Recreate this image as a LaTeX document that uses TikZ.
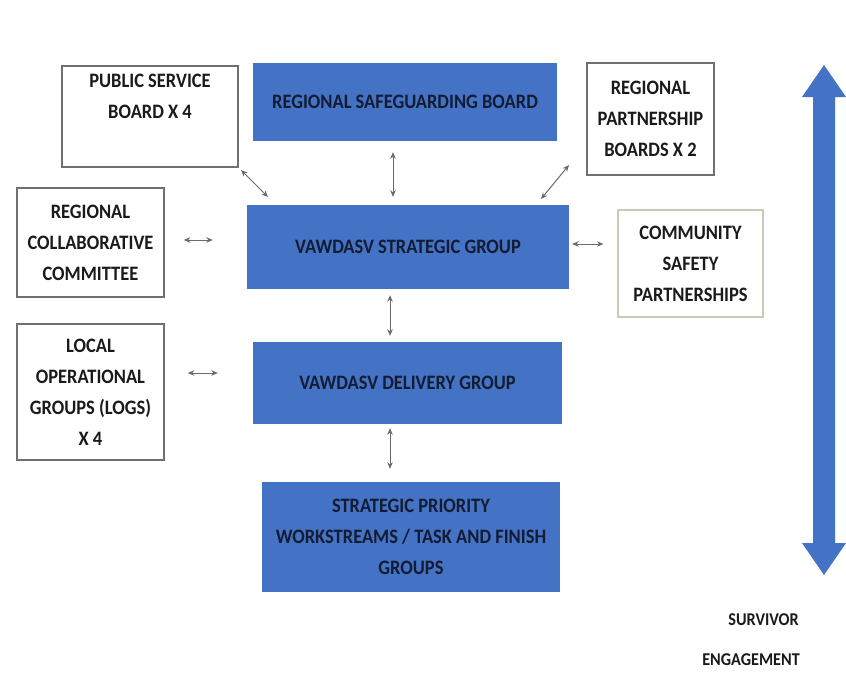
\documentclass[tikz,border=0pt]{standalone}
\usepackage{fontspec}
\setmainfont{Carlito}[FakeStretch=0.9]
\usetikzlibrary{arrows.meta}
\definecolor{boxblue}{HTML}{4472C4}
\definecolor{navytxt}{HTML}{131C33}
\definecolor{darktxt}{HTML}{1A1A1A}
\definecolor{edgegray}{HTML}{707070}
\definecolor{csprim}{HTML}{C5CDB6}
\definecolor{conngray}{HTML}{6A6A6A}
\tikzset{
  txt/.style={font=\fontsize{20.5}{31}\selectfont\bfseries, align=center},
  bluebox/.style={txt, fill=boxblue, draw=none, text=navytxt, inner sep=0pt},
  whitebox/.style={txt, fill=white, draw=edgegray, line width=1.6pt, text=darktxt, inner sep=0pt},
  conn/.style={draw=conngray, line width=1pt, {Stealth[length=6.5pt,width=5.5pt]}-{Stealth[length=6.5pt,width=5.5pt]}},
  survtxt/.style={font=\fontsize{18}{20}\selectfont\bfseries, text=darktxt, anchor=east, inner sep=0pt}
}
\begin{document}
\begin{tikzpicture}[x=1pt,y=-1pt]
\useasboundingbox[fill=white] (0,0) rectangle (846,693);

% blue boxes
\node[bluebox, minimum width=304pt, minimum height=78pt] (rsb) at (405,102) {REGIONAL SAFEGUARDING BOARD};
\node[bluebox, minimum width=322pt, minimum height=84pt] (vsg) at (408,247) {VAWDASV STRATEGIC GROUP};
\node[bluebox, minimum width=309pt, minimum height=82pt] (vdg) at (407.5,383) {VAWDASV DELIVERY GROUP};
\node[bluebox, minimum width=298pt, minimum height=110pt] (spw) at (411,537) {STRATEGIC PRIORITY\\WORKSTREAMS / TASK AND FINISH\\GROUPS};

% white boxes
\node[whitebox, minimum width=176pt, minimum height=101pt] (psb) at (150,116.5) {PUBLIC SERVICE\\BOARD X 4\\\strut};
\node[whitebox, minimum width=127pt, minimum height=112pt] (rpb) at (650.5,119) {REGIONAL\\PARTNERSHIP\\BOARDS X 2};
\node[whitebox, draw=csprim, line width=1.2pt, minimum width=145pt, minimum height=107pt] (csp) at (690.5,263.5) {COMMUNITY\\SAFETY\\PARTNERSHIPS};
\node[whitebox, minimum width=147pt, minimum height=109pt] (rcc) at (90.5,242.5) {REGIONAL\\COLLABORATIVE\\COMMITTEE};
\node[whitebox, minimum width=147pt, minimum height=136pt] (log) at (90.5,392) {LOCAL\\OPERATIONAL\\GROUPS (LOGS)\\X 4};

% connectors
\coordinate (psbA) at (241,170);
\coordinate (psbB) at (268,197);
\draw[conn] (psbA) -- (psbB);
\coordinate (rpbA) at (569,165);
\coordinate (rpbB) at (541,199);
\draw[conn] (rpbA) -- (rpbB);
\draw[conn, shorten <=11pt, shorten >=8pt] ([xshift=-12pt]rsb.south) -- ([xshift=-15pt]vsg.north);
\draw[conn, shorten <=6pt, shorten >=6pt] ([xshift=-18pt]vsg.south) -- ([xshift=-17.5pt]vdg.north);
\draw[conn, shorten <=4pt, shorten >=13pt] ([xshift=-17.5pt]vdg.south) -- ([xshift=-21pt]spw.north);
\draw[conn, shorten <=19pt, shorten >=34pt] ([yshift=2.5pt]rcc.east) -- ([yshift=2.5pt]rcc.east -| vsg.west);
\draw[conn, shorten <=3pt, shorten >=14pt] ([yshift=3pt]vsg.east) -- ([yshift=3pt]vsg.east -| csp.west);
\draw[conn, shorten <=23pt, shorten >=35pt] ([yshift=19pt]log.east) -- ([yshift=19pt]log.east -| vdg.west);

% big double arrow
\fill[boxblue] (824,65) -- (846,97) -- (835,97) -- (835,543) -- (846,543) -- (824,575)
  -- (802,543) -- (813,543) -- (813,97) -- (802,97) -- cycle;

% survivor engagement
\node[survtxt] (surv) at (799,620) {SURVIVOR};
\node[survtxt] (eng) at (800,660) {ENGAGEMENT};
\end{tikzpicture}
\end{document}
